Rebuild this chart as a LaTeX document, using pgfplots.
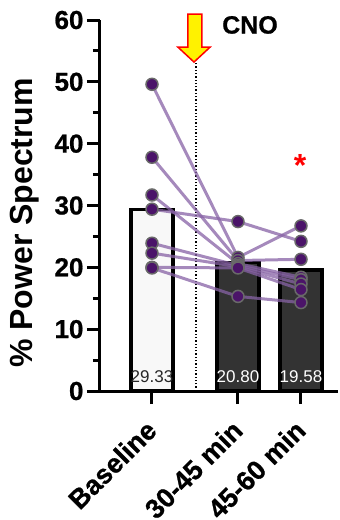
\documentclass[border=0pt]{standalone}
\usepackage{fontspec}
\setmainfont{Liberation Sans}
\usepackage{pgfplots}
\pgfplotsset{compat=1.18}
\definecolor{ptfill}{RGB}{75,20,105}
\definecolor{ptedge}{RGB}{105,105,105}
\definecolor{linec}{RGB}{135,98,165}
\definecolor{barlight}{RGB}{248,248,248}
\definecolor{bardark}{RGB}{51,51,51}
\begin{document}
\begin{tikzpicture}[x=1pt,y=1pt]
\useasboundingbox (-100,-129) rectangle (240,391);
\begin{axis}[
  at={(0,0)}, anchor=south west,
  width=238pt, height=371pt, scale only axis,
  xmin=1.00, xmax=3.38, ymin=0, ymax=60,
  axis lines*=left,
  axis line style={line width=3pt, black},
  tick style={line width=3pt, black},
  tick align=outside,
  major tick length=13pt, minor tick length=7pt,
  ytick={0,10,...,60}, minor ytick={5,15,...,55},
  xtick={1.52,2.38,3.01},
  xticklabels={Baseline,30-45 min,45-60 min},
  /pgf/number format/assume math mode=true,
  yticklabel style={font=\bfseries\fontsize{26}{26}\selectfont\addfontfeature{FakeBold=0.8}},
  xticklabel style={xshift=2pt, yshift=-19pt, rotate=45, anchor=east, font=\bfseries\fontsize{27}{27}\selectfont\addfontfeature{FakeBold=0.8}},
  ylabel={\% Power Spectrum},
  ylabel style={at={(axis description cs:-0.315,0.453)}, anchor=center, font=\bfseries\fontsize{32}{32}\selectfont},
  clip=false,
]
% bars (means)
\addplot[ybar, bar shift=0pt, bar width=0.42, fill=barlight, draw=black, line width=3.5pt] coordinates {(1.52,29.33)};
\addplot[ybar, bar shift=0pt, bar width=0.42, fill=bardark, draw=black, line width=3.5pt] coordinates {(2.38,20.80) (3.01,19.58)};
% dotted CNO line
\draw[black, dotted, line width=1.3pt] (axis cs:1.96,0) -- (axis cs:1.96,53.2);
% subjects
\addplot[linec, opacity=0.75, line width=3pt, no marks] coordinates {(1.52,49.6) (2.38,21.6) (3.01,26.7)};
\addplot[linec, opacity=0.75, line width=3pt, no marks] coordinates {(1.52,37.8) (2.38,21.1) (3.01,21.3)};
\addplot[linec, opacity=0.75, line width=3pt, no marks] coordinates {(1.52,31.7) (2.38,20.6) (3.01,18.4)};
\addplot[linec, opacity=0.75, line width=3pt, no marks] coordinates {(1.52,29.4) (2.38,27.4) (3.01,24.2)};
\addplot[linec, opacity=0.75, line width=3pt, no marks] coordinates {(1.52,23.9) (2.38,20.3) (3.01,18.0)};
\addplot[linec, opacity=0.75, line width=3pt, no marks] coordinates {(1.52,22.3) (2.38,20.1) (3.01,17.3)};
\addplot[linec, opacity=0.75, line width=3pt, no marks] coordinates {(1.52,20.0) (2.38,19.9) (3.01,16.4)};
\addplot[linec, opacity=0.75, line width=3pt, no marks] coordinates {(1.52,19.9) (2.38,15.3) (3.01,14.3)};
% points
\addplot[only marks, mark=*, mark size=6pt, mark options={fill=ptfill, draw=ptedge, line width=1.5pt}] coordinates {
(1.52,49.6) (1.52,37.8) (1.52,31.7) (1.52,29.4) (1.52,23.9) (1.52,22.3) (1.52,20.0) (1.52,19.9)
(2.38,21.6) (2.38,21.1) (2.38,20.6) (2.38,27.4) (2.38,20.3) (2.38,20.1) (2.38,19.9) (2.38,15.3)
(3.01,26.7) (3.01,21.3) (3.01,18.4) (3.01,24.2) (3.01,18.0) (3.01,17.3) (3.01,16.4) (3.01,14.3)};
% bar value labels
\node[font=\fontsize{17}{17}\selectfont, text=black!85] at (axis cs:1.52,2.3) {29.33};
\node[font=\fontsize{17}{17}\selectfont, text=white] at (axis cs:2.38,2.3) {20.80};
\node[font=\fontsize{17}{17}\selectfont, text=white] at (axis cs:3.01,2.3) {19.58};
% CNO arrow
\filldraw[fill=yellow, draw=red, line width=1.5pt, line join=miter]
  (axis cs:1.88,60.97) -- (axis cs:2.02,60.97) -- (axis cs:2.02,55.6) -- (axis cs:2.10,55.6)
  -- (axis cs:1.94,53.2) -- (axis cs:1.78,55.6) -- (axis cs:1.88,55.6) -- cycle;
\node[font=\bfseries\fontsize{25}{25}\selectfont\addfontfeature{FakeBold=0.8}] at (axis cs:2.50,59.2) {CNO};
\node[text=red, font=\bfseries\fontsize{32}{32}\selectfont] at (axis cs:3.00,36.5) {*};
\end{axis}
\end{tikzpicture}
\end{document}
